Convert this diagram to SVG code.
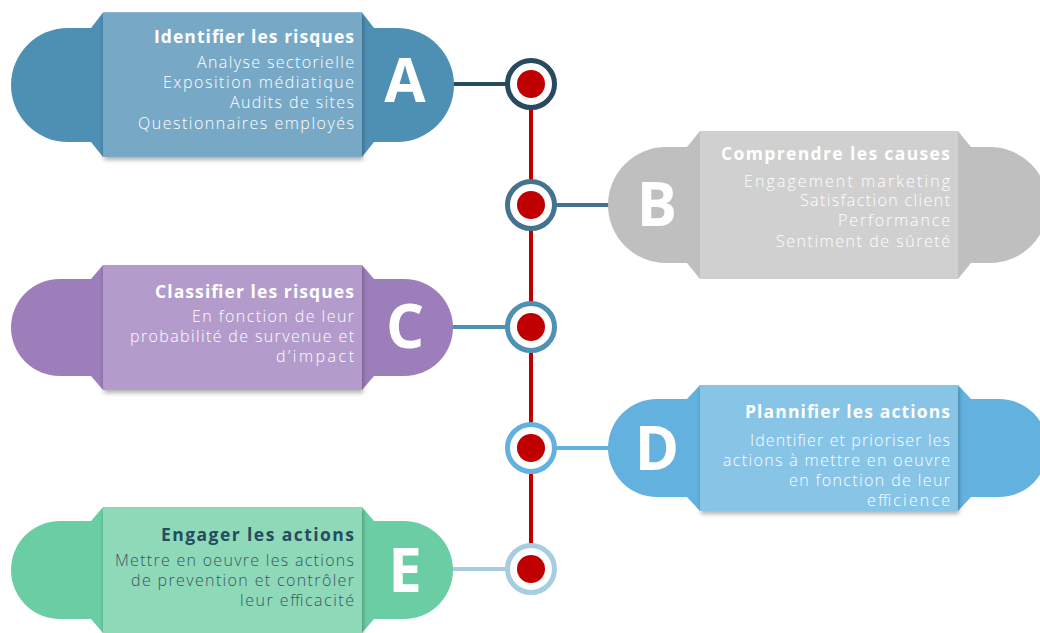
<svg xmlns="http://www.w3.org/2000/svg" width="1040" height="633" viewBox="0 0 1040 633">
<defs>
<filter id="sh" x="-10%" y="-10%" width="120%" height="130%">
<feDropShadow dx="1" dy="3" stdDeviation="2" flood-color="#000" flood-opacity="0.3"/>
</filter>
<style>
.ti{font-family:"Open Sans","Liberation Sans",sans-serif;font-weight:700;font-size:17.5px;fill:#fff;text-anchor:end}
.tx{font-family:"Open Sans","Liberation Sans",sans-serif;font-weight:300;font-size:16px;fill:#fff;text-anchor:end}
.lt{font-family:"Open Sans","Liberation Sans",sans-serif;font-weight:700;font-size:60px;fill:#fff;text-anchor:middle}
.ring{fill:#fff;stroke-width:5}
.dot{fill:#C00000}
.cn{stroke-width:4;fill:none}
</style>
</defs>

<g id="connectors">
<line x1="531" y1="84" x2="531" y2="569" stroke="#C00000" stroke-width="4"/>
<line class="cn" x1="453" y1="84" x2="507" y2="84" stroke="#274A5F"/>
<line class="cn" x1="554" y1="205" x2="610" y2="205" stroke="#44738F"/>
<line class="cn" x1="452" y1="327" x2="507" y2="327" stroke="#4F90B5"/>
<line class="cn" x1="554" y1="448" x2="610" y2="448" stroke="#62B1DF"/>
<line class="cn" x1="452" y1="569" x2="507" y2="569" stroke="#A7CDE1"/>
</g>

<g id="timeline-dots">
<circle class="ring" cx="531" cy="84" r="23.5" stroke="#274A5F"/><circle class="dot" cx="531" cy="84" r="14"/>
<circle class="ring" cx="531" cy="205" r="23.5" stroke="#44738F"/><circle class="dot" cx="531" cy="205" r="14"/>
<circle class="ring" cx="531" cy="327" r="23.5" stroke="#4F90B5"/><circle class="dot" cx="531" cy="327" r="14"/>
<circle class="ring" cx="531" cy="448" r="23.5" stroke="#62B1DF"/><circle class="dot" cx="531" cy="448" r="14"/>
<circle class="ring" cx="531" cy="569" r="23.5" stroke="#A7CDE1"/><circle class="dot" cx="531" cy="569" r="14"/>
</g>

<g id="node-A">
<rect x="11" y="28" width="443" height="114" rx="57" fill="#4E8FB4"/>
<polygon points="91,28 103,12.5 362,12.5 374,28 374,142 362,157 103,157 91,142" fill="#4E8FB4"/>
<rect x="103" y="12.5" width="259" height="144.5" fill="#77A9C7" filter="url(#sh)"/>
<text class="ti" x="354" y="43" textLength="200" lengthAdjust="spacing">Identifier les risques</text>
<text class="tx" x="354" y="68" textLength="157" lengthAdjust="spacing">Analyse sectorielle</text>
<text class="tx" x="354" y="88" textLength="191" lengthAdjust="spacing">Exposition médiatique</text>
<text class="tx" x="354" y="108" textLength="124" lengthAdjust="spacing">Audits de sites</text>
<text class="tx" x="354" y="129" textLength="216" lengthAdjust="spacing">Questionnaires employés</text>
<text class="lt" x="405" y="102">A</text>
</g>

<g id="node-B">
<rect x="608" y="147" width="440" height="116" rx="58" fill="#BFBFBF"/>
<polygon points="687,147 700,131 958,131 971,147 971,263 958,279 700,279 687,263" fill="#BFBFBF"/>
<rect x="700" y="131" width="258" height="148" fill="#D0D0D0"/>
<text class="ti" x="950" y="160" textLength="229" lengthAdjust="spacing">Comprendre les causes</text>
<text class="tx" x="950" y="187" textLength="206" lengthAdjust="spacing">Engagement marketing</text>
<text class="tx" x="950" y="206" textLength="150" lengthAdjust="spacing">Satisfaction client</text>
<text class="tx" x="950" y="226" textLength="112" lengthAdjust="spacing">Performance</text>
<text class="tx" x="950" y="247" textLength="174" lengthAdjust="spacing">Sentiment de sûreté</text>
<text class="lt" x="657" y="226">B</text>
</g>

<g id="node-C">
<rect x="11" y="279" width="442" height="97" rx="48.5" fill="#9B7EBA"/>
<polygon points="91,279 103,265 362,265 374,279 374,376 362,390 103,390 91,376" fill="#9B7EBA"/>
<rect x="103" y="265" width="259" height="125" fill="#B39CCB" filter="url(#sh)"/>
<text class="ti" x="354" y="298" textLength="199" lengthAdjust="spacing">Classifier les risques</text>
<text class="tx" x="354" y="322" textLength="162" lengthAdjust="spacing">En fonction de leur</text>
<text class="tx" x="354" y="342" textLength="224" lengthAdjust="spacing">probabilité de survenue et</text>
<text class="tx" x="354" y="362" textLength="78" lengthAdjust="spacing">d’impact</text>
<text class="lt" x="405" y="348">C</text>
</g>

<g id="node-D">
<rect x="608" y="399" width="440" height="98" rx="49" fill="#62B1DF"/>
<polygon points="687,399 700,385 958,385 971,399 971,497 958,511 700,511 687,497" fill="#62B1DF"/>
<rect x="700" y="385" width="258" height="126" fill="#87C4E6" filter="url(#sh)"/>
<text class="ti" x="950" y="418" textLength="205" lengthAdjust="spacing">Plannifier les actions</text>
<text class="tx" x="950" y="446" textLength="200" lengthAdjust="spacing">Identifier et prioriser les</text>
<text class="tx" x="950" y="466" textLength="227" lengthAdjust="spacing">actions à mettre en oeuvre</text>
<text class="tx" x="950" y="486" textLength="161" lengthAdjust="spacing">en fonction de leur</text>
<text class="tx" x="950" y="506" textLength="83" lengthAdjust="spacing">efficience</text>
<text class="lt" x="657" y="470">D</text>
</g>

<g id="node-E">
<rect x="11" y="521" width="442" height="98" rx="49" fill="#6BCDA3"/>
<polygon points="91,521 103,507 362,507 374,521 374,619 362,633 103,633 91,619" fill="#6BCDA3"/>
<rect x="103" y="507" width="259" height="126" fill="#8ED9B7" filter="url(#sh)"/>
<text class="ti" x="354" y="541" textLength="193" lengthAdjust="spacing" style="fill:#264B63">Engager les actions</text>
<text class="tx" x="354" y="566" textLength="239" lengthAdjust="spacing" style="fill:#3B5566">Mettre en oeuvre les actions</text>
<text class="tx" x="354" y="586" textLength="223" lengthAdjust="spacing" style="fill:#3B5566">de prevention et contrôler</text>
<text class="tx" x="354" y="606" textLength="114" lengthAdjust="spacing" style="fill:#3B5566">leur efficacité</text>
<text class="lt" x="405" y="592">E</text>
</g>
</svg>
